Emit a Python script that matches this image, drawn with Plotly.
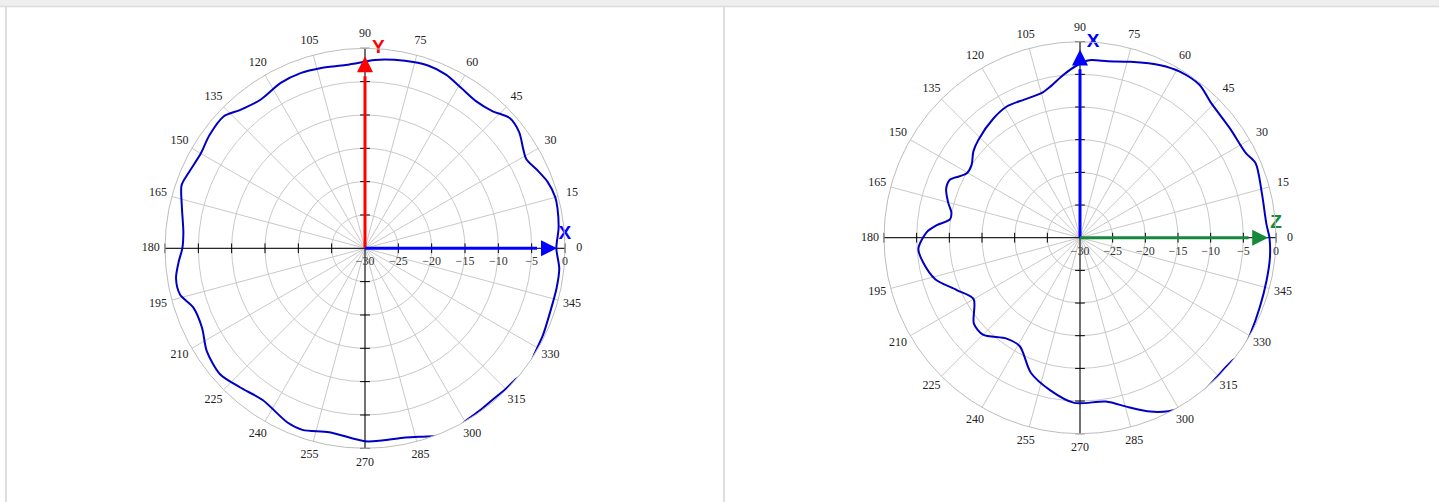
import plotly.graph_objects as go

# ---------------- data ----------------
# Left panel: radiation pattern (dB) vs angle (deg)
LEFT_THETA = [0, 6, 12, 15, 20, 24, 29, 32, 37, 42, 47, 53, 59, 65, 71, 78, 87, 90,
              96, 104, 110, 117, 125, 132, 137, 144, 150, 157, 161, 167, 175, 180,
              184, 189, 194, 199, 206, 213, 221, 228, 236, 246, 251, 259, 270, 275,
              282, 287, 290, 293, 297, 300, 305, 310, 315, 319, 322, 325, 328, 334,
              342, 348, 354, 360]
LEFT_DB = [-1.3, -0.8, -0.5, -0.45, -0.85, -1.55, -2.35, -2.0, -1.05, -0.8, -1.9, -2.35,
           -1.95, -1.25, -1.0, -1.25, -1.7, -2.0, -2.35, -2.15, -2.0, -2.15, -2.75, -2.05,
           -1.0, -1.15, -1.55, -1.2, -0.9, -1.8, -2.65, -2.6, -2.0, -1.3, -1.4, -2.75,
           -2.8, -1.7, -1.2, -1.95, -2.55, -1.4, -1.2, -1.9, -1.05, -1.05, -0.97, -0.45,
           0.0, 0.5, 0.4, 0.0, -0.2, -0.3, -0.15, -0.05, 0.35, 0.3, -0.05, -0.3,
           -0.65, -0.65, -0.7, -1.3]

# Right panel: radiation pattern (dB) vs angle (deg)
RIGHT_THETA = [0, 4, 14, 23, 27, 36, 46, 52, 59, 65, 74, 81, 87, 91, 96, 101, 105, 112,
               119, 126, 136, 141, 146, 150, 153, 156, 160, 165, 169, 172, 175, 178, 184,
               189, 196, 203, 210, 219, 225, 234, 241, 250, 259, 268, 279, 286, 292, 297,
               300, 305, 310, 314, 321, 323, 327, 330, 339, 347, 354, 360]
RIGHT_DB = [-1.0, -1.38, -1.33, -0.8, -1.5, -1.6, -1.2, -0.3, -0.35, -0.87, -2.0, -2.65,
            -2.8, -3.6, -5.0, -6.4, -7.1, -7.2, -7.0, -7.45, -8.4, -9.0, -10.0, -10.1,
            -9.3, -8.2, -8.2, -9.1, -9.95, -9.9, -8.0, -6.5, -5.2, -5.7, -6.95, -9.5,
            -11.2, -9.1, -9.0, -10.9, -11.0, -8.0, -6.2, -4.7, -4.6, -3.0, -1.3, -0.2,
            0.2, 0.4, 0.1, -0.1, -0.05, 0.3, 0.2, 0.0, -0.5, -0.7, -0.77, -1.0]

ANGLE_TICKS = [0, 15, 30, 45, 60, 75, 90, 105, 120, 135, 150, 165,
               180, 195, 210, 225, 240, 255, 270, 285, 300, 315, 330, 345]
ANGLE_LABELS = ["0", "15", "30", "45", "60", "75", "90", "105", "120", "135", "150", "165",
                "180", "195", "210", "225", "240", "255", "270", "285", "300", "315", "330", "345"]
RADIAL_TICKS = [-30, -25, -20, -15, -10, -5, 0]
RADIAL_LABELS = ["\u221230", "\u221225", "\u221220", "\u221215", "\u221210", "\u22125", "0"]
AXIS_MARKS = [-25, -20, -15, -10, -5, 0]

R_MIN, R_MAX = -30, 0
ARROW_TIP_DB = -1.2
ANGLE_LABEL_R = 2.15   # angular labels sit just outside the 0 dB circle

# panel definitions
PANELS = [
    dict(sp="polar", lab="polar3", th=LEFT_THETA, db=LEFT_DB, vlab="Y", vcol="#ff0000",
         hlab="X", hcol="#0000ff", cx=365, cy=248.3, rad=200),
    dict(sp="polar2", lab="polar4", th=RIGHT_THETA, db=RIGHT_DB, vlab="X", vcol="#0000ff",
         hlab="Z", hcol="#17893a", cx=1080, cy=237.7, rad=196),
]

CURVE_COLOR = "#0000c4"
SERIF = "Liberation Serif"
W, H = 1439, 502

fig = go.Figure()

for p in PANELS:
    sp = p["sp"]
    vcol, hcol = p["vcol"], p["hcol"]
    # black cross axes
    fig.add_trace(go.Scatterpolar(
        r=[R_MAX, R_MIN, R_MAX, None, R_MAX, R_MIN, R_MAX],
        theta=[180, 180, 0, None, 90, 90, 270],
        mode="lines", line=dict(color="#000000", width=1),
        subplot=sp, showlegend=False, hoverinfo="skip"))
    # tick marks on the axes
    fig.add_trace(go.Scatterpolar(
        r=AXIS_MARKS + AXIS_MARKS, theta=[180] * len(AXIS_MARKS) + [0] * len(AXIS_MARKS),
        mode="markers", marker=dict(symbol="line-ns", size=7,
                                     line=dict(color="#000000", width=1)),
        subplot=sp, showlegend=False, hoverinfo="skip", cliponaxis=False))
    fig.add_trace(go.Scatterpolar(
        r=AXIS_MARKS + AXIS_MARKS, theta=[90] * len(AXIS_MARKS) + [270] * len(AXIS_MARKS),
        mode="markers", marker=dict(symbol="line-ew", size=7,
                                     line=dict(color="#000000", width=1)),
        subplot=sp, showlegend=False, hoverinfo="skip", cliponaxis=False))
    # pattern curve
    fig.add_trace(go.Scatterpolar(
        r=p["db"], theta=p["th"], mode="lines",
        line=dict(color=CURVE_COLOR, width=2, shape="spline", smoothing=0.8),
        subplot=sp, showlegend=False, hoverinfo="skip"))
    # arrows: shafts
    fig.add_trace(go.Scatterpolar(
        r=[R_MIN, ARROW_TIP_DB - 3], theta=[90, 90], mode="lines",
        line=dict(color=vcol, width=3), subplot=sp, showlegend=False, hoverinfo="skip"))
    fig.add_trace(go.Scatterpolar(
        r=[R_MIN, ARROW_TIP_DB - 3], theta=[0, 0], mode="lines",
        line=dict(color=hcol, width=3), subplot=sp, showlegend=False, hoverinfo="skip"))
    # arrow heads
    fig.add_trace(go.Scatterpolar(
        r=[ARROW_TIP_DB], theta=[90], mode="markers",
        marker=dict(symbol="arrow-up", size=16, color=vcol, line=dict(width=0)),
        subplot=sp, showlegend=False, hoverinfo="skip", cliponaxis=False))
    fig.add_trace(go.Scatterpolar(
        r=[ARROW_TIP_DB], theta=[0], mode="markers",
        marker=dict(symbol="arrow-right", size=16, color=hcol, line=dict(width=0)),
        subplot=sp, showlegend=False, hoverinfo="skip", cliponaxis=False))
    # arrow labels
    fig.add_trace(go.Scatterpolar(
        r=[R_MAX], theta=[88], mode="text", text=["<b>%s</b>" % p["vlab"]],
        textposition="middle right",
        textfont=dict(family="Liberation Sans", size=19, color=vcol),
        subplot=sp, showlegend=False, hoverinfo="skip", cliponaxis=False))
    fig.add_trace(go.Scatterpolar(
        r=[R_MAX], theta=[1.4], mode="text", text=["<b>%s</b>" % p["hlab"]],
        textposition="top center",
        textfont=dict(family="Liberation Sans", size=19, color=hcol),
        subplot=sp, showlegend=False, hoverinfo="skip", cliponaxis=False))
    # angular labels on an overlaid, wider polar frame sharing the same centre
    fig.add_trace(go.Scatterpolar(
        r=[ANGLE_LABEL_R] * len(ANGLE_TICKS), theta=ANGLE_TICKS, text=ANGLE_LABELS,
        mode="text", textposition="middle center",
        textfont=dict(family=SERIF, size=12, color="#222222"),
        subplot=p["lab"], showlegend=False, hoverinfo="skip", cliponaxis=False))


def domain(cx, cy, rad):
    return dict(x=[(cx - rad) / W, (cx + rad) / W],
                y=[1 - (cy + rad) / H, 1 - (cy - rad) / H])


def polar_layout(cx, cy, rad):
    return dict(
        domain=domain(cx, cy, rad),
        bgcolor="rgba(0,0,0,0)",
        radialaxis=dict(range=[R_MIN, R_MAX], tickmode="array", tickvals=RADIAL_TICKS,
                        ticktext=RADIAL_LABELS, angle=0, side="clockwise",
                        showline=False, ticks="outside", ticklen=2,
                        tickcolor="rgba(0,0,0,0)", gridcolor="#c9c9c9", gridwidth=1,
                        tickfont=dict(family=SERIF, size=12, color="#333333")),
        angularaxis=dict(direction="counterclockwise", rotation=0, tickmode="array",
                         tickvals=ANGLE_TICKS, showticklabels=False,
                         showline=True, linecolor="#bdbdbd", linewidth=1,
                         gridcolor="#c9c9c9", gridwidth=1, ticks=""),
    )


def label_layout(cx, cy, rad):
    big = rad * (ANGLE_LABEL_R - R_MIN) / (R_MAX - R_MIN)
    return dict(
        domain=domain(cx, cy, big),
        bgcolor="rgba(0,0,0,0)",
        radialaxis=dict(range=[R_MIN, ANGLE_LABEL_R], visible=False, showgrid=False),
        angularaxis=dict(direction="counterclockwise", rotation=0, visible=False,
                         showgrid=False, showline=False, showticklabels=False, ticks=""),
    )


fig.update_layout(
    width=W, height=H, margin=dict(l=0, r=0, t=0, b=0),
    paper_bgcolor="#ffffff", plot_bgcolor="#ffffff",
    polar=polar_layout(PANELS[0]["cx"], PANELS[0]["cy"], PANELS[0]["rad"]),
    polar2=polar_layout(PANELS[1]["cx"], PANELS[1]["cy"], PANELS[1]["rad"]),
    polar3=label_layout(PANELS[0]["cx"], PANELS[0]["cy"], PANELS[0]["rad"]),
    polar4=label_layout(PANELS[1]["cx"], PANELS[1]["cy"], PANELS[1]["rad"]),
    shapes=[
        dict(type="rect", xref="paper", yref="paper", x0=0, x1=1, y0=1 - 6.5 / H, y1=1,
             fillcolor="#efefef", line=dict(width=0), layer="below"),
        dict(type="line", xref="paper", yref="paper", x0=0, x1=1, y0=1 - 6.5 / H,
             y1=1 - 6.5 / H, line=dict(color="#dcdcdc", width=1.5)),
        dict(type="line", xref="paper", yref="paper", x0=6 / W, x1=6 / W, y0=0,
             y1=1 - 6.5 / H, line=dict(color="#dedede", width=2)),
        dict(type="line", xref="paper", yref="paper", x0=724 / W, x1=724 / W, y0=0,
             y1=1 - 6.5 / H, line=dict(color="#dedede", width=2)),
    ],
)

fig.write_html("out.html", config={"displayModeBar": False},
               post_script="document.body.style.margin='0px';document.body.style.overflow='hidden';")
